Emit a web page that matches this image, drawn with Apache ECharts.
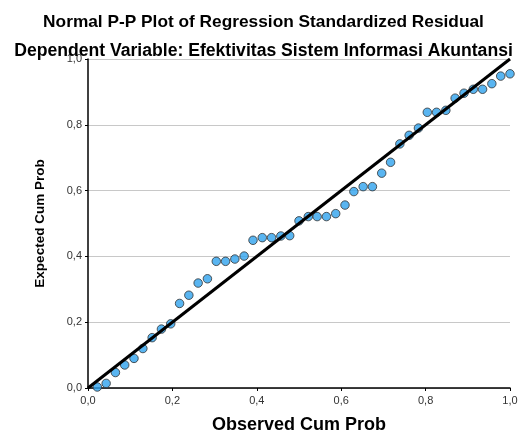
<!DOCTYPE html>
<html>
<head>
<meta charset="utf-8">
<script src="https://cdn.jsdelivr.net/npm/echarts@6/dist/echarts.min.js"></script>
<style>html,body{margin:0;padding:0;background:#fff;}#c{width:527px;height:432px;}</style>
</head>
<body>
<div id="c"></div>
<script>
var observed = [0.022,0.043,0.065,0.087,0.109,0.13,0.152,0.174,0.196,0.217,0.239,0.261,0.283,0.304,0.326,0.348,0.37,0.391,0.413,0.435,0.457,0.478,0.5,0.522,0.543,0.565,0.587,0.609,0.63,0.652,0.674,0.696,0.717,0.739,0.761,0.783,0.804,0.826,0.848,0.87,0.891,0.913,0.935,0.957,0.978,1.0];
var expected = [0.003,0.014,0.047,0.07,0.09,0.12,0.153,0.179,0.195,0.257,0.282,0.319,0.332,0.385,0.385,0.392,0.401,0.449,0.457,0.457,0.462,0.463,0.508,0.521,0.521,0.521,0.53,0.556,0.597,0.612,0.612,0.653,0.686,0.742,0.768,0.79,0.838,0.838,0.844,0.881,0.896,0.908,0.908,0.925,0.948,0.955];
var refLine = [[0,0],[1,1]];
var tickValues = [0,0.2,0.4,0.6,0.8,1.0];

var pts = observed.map(function(x,i){return [x, expected[i]];});
function fmt(v){ return v.toFixed(1).replace('.', ','); }

var chart = echarts.init(document.getElementById('c'), null, {renderer:'canvas'});
chart.setOption({
  animation:false,
  backgroundColor:'#fff',
  title:[
    {text:'Normal P-P Plot of Regression Standardized Residual', left:'center', top:9,
     textStyle:{fontFamily:'Liberation Sans', fontWeight:'bold', fontSize:17.3, color:'#000'}},
    {text:'Dependent Variable: Efektivitas Sistem Informasi Akuntansi', left:'center', top:37,
     textStyle:{fontFamily:'Liberation Sans', fontWeight:'bold', fontSize:17.6, color:'#000'}}
  ],
  grid:{left:88, right:17, top:59, bottom:44, containLabel:false, outerBoundsMode:'none'},
  xAxis:{
    type:'value', min:0, max:1, interval:0.2,
    name:'Observed Cum Prob', nameLocation:'middle', nameGap:28,
    nameTextStyle:{fontFamily:'Liberation Sans', fontWeight:'bold', fontSize:18, color:'#000'},
    axisLine:{show:true, lineStyle:{color:'#000', width:1.5}},
    axisTick:{show:true, length:3, lineStyle:{color:'#000'}},
    axisLabel:{formatter:fmt, fontFamily:'Liberation Sans', fontSize:11, color:'#333', margin:7},
    splitLine:{show:false}
  },
  yAxis:{
    type:'value', min:0, max:1, interval:0.2,
    name:'Expected Cum Prob', nameLocation:'middle', nameGap:41,
    nameTextStyle:{fontFamily:'Liberation Sans', fontWeight:'bold', fontSize:13.5, color:'#000'},
    axisLine:{show:true, lineStyle:{color:'#000', width:1.5}},
    axisTick:{show:true, length:3, lineStyle:{color:'#000'}},
    axisLabel:{formatter:fmt, fontFamily:'Liberation Sans', fontSize:11, color:'#333', margin:6},
    splitLine:{show:true, lineStyle:{color:'#c8c8c8', width:1}}
  },
  series:[
    {type:'scatter', data:pts, symbol:'circle', symbolSize:8.5, z:2,
     itemStyle:{color:'#30a3ee', borderColor:'#333', borderWidth:1}},
    {type:'line', data:refLine, symbol:'none', z:3,
     lineStyle:{color:'#000', width:3}}
  ]
});
</script>
</body>
</html>
